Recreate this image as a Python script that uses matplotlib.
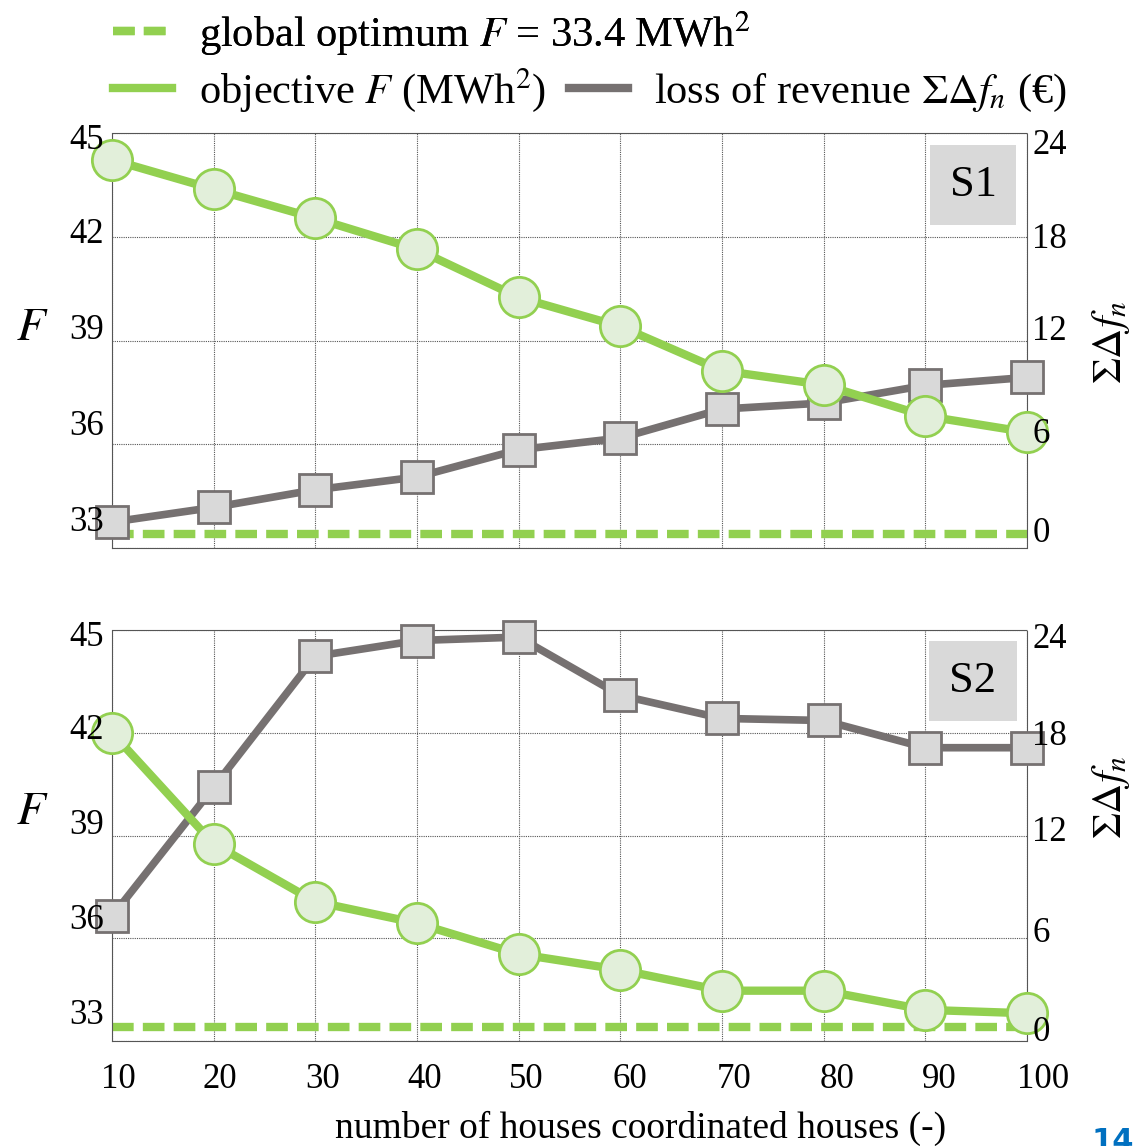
import matplotlib
matplotlib.use("Agg")
import matplotlib.pyplot as plt
from matplotlib.lines import Line2D
from matplotlib.transforms import ScaledTranslation

plt.rcParams["font.family"] = ["Liberation Serif", "DejaVu Serif"]
plt.rcParams["mathtext.fontset"] = "stix"

houses = [10, 20, 30, 40, 50, 60, 70, 80, 90, 100]
global_opt = 33.4

# S1
obj_s1 = [44.23, 43.38, 42.54, 41.64, 40.25, 39.41, 38.13, 37.72, 36.82, 36.35]
loss_s1 = [1.5, 2.35, 3.37, 4.11, 5.69, 6.36, 8.04, 8.39, 9.41, 9.87]
# S2
obj_s2 = [42.0, 38.76, 37.07, 36.44, 35.54, 35.08, 34.47, 34.47, 33.91, 33.81]
loss_s2 = [7.28, 14.82, 22.47, 23.39, 23.59, 20.19, 18.84, 18.72, 17.13, 17.13]

f_ticks = [33, 36, 39, 42, 45]
loss_ticks = [0, 6, 12, 18, 24]

green = "#92d050"
green_face = "#e2efda"
grey = "#767171"
grey_face = "#d9d9d9"

fig = plt.figure(figsize=(11.38, 11.46), dpi=100)
rect_top = [0.0984, 0.5218, 0.804, 0.362]
rect_bot = [0.0984, 0.0916, 0.804, 0.3586]


def nudge(labels, dx, dy):
    # the tick labels in the source sit a little off their grid lines
    for lab, x, y in zip(labels, dx, dy):
        lab.set_transform(lab.get_transform() + ScaledTranslation(x / 100, y / 100, fig.dpi_scale_trans))


panels = [
    (rect_top, obj_s1, loss_s1, "S1", 0.528, 0.496, [19, 14, 13, 1, -8]),
    (rect_bot, obj_s2, loss_s2, "S2", 0.555, 0.594, [13, 9, 7, 0, -5]),
]

axes = []
for rect, obj, loss, tag, fy, ly, right_dy in panels:
    # base axes: grid + dashed optimum
    ax = fig.add_axes(rect)
    ax.set_xlim(10, 100)
    ax.set_ylim(33, 45)
    ax.set_xticks(houses)
    ax.set_yticks(f_ticks)
    ax.grid(True, linestyle=(0, (1, 1)), color="#555555", linewidth=0.8)
    for s in ax.spines.values():
        s.set_linestyle((0, (1, 1)))
        s.set_color("#555555")
        s.set_linewidth(0.8)
    ax.tick_params(axis="both", length=0, labelleft=False, labelbottom=False)
    ax.plot([houses[0], houses[-1]], [global_opt, global_opt], color=green,
            linewidth=6, dashes=(2.6, 1.1), solid_capstyle="butt", clip_on=False)

    # loss of revenue on the right scale
    ax_loss = ax.twinx()
    ax_loss.set_ylim(0, 24)
    ax_loss.axis("off")
    ax_loss.plot(houses, loss, color=grey, linewidth=5.5, marker="s", markersize=23,
                 markerfacecolor=grey_face, markeredgecolor=grey, markeredgewidth=2,
                 clip_on=False)

    # objective F on the left scale
    ax_obj = ax.twinx()
    ax_obj.set_ylim(33, 45)
    ax_obj.axis("off")
    ax_obj.plot(houses, obj, color=green, linewidth=6, marker="o", markersize=29,
                markerfacecolor=green_face, markeredgecolor=green, markeredgewidth=2,
                clip_on=False)
    ax_obj.text(0.941, 0.875, tag, transform=ax_obj.transAxes, fontsize=32,
                ha="center", va="center",
                bbox=dict(boxstyle="square,pad=0.45", facecolor=grey_face, edgecolor="none"))

    # overlay for tick labels, so they sit above the markers
    ax_lab = fig.add_axes(rect, sharex=ax, sharey=ax)
    ax_lab.patch.set_visible(False)
    for s in ax_lab.spines.values():
        s.set_visible(False)
    ax_lab.tick_params(axis="both", length=0, labelsize=25)
    ax_lab.tick_params(axis="y", pad=6)
    ax_lab.tick_params(axis="x", pad=16)
    nudge(ax_lab.get_yticklabels(), [0] * 5, [30, 22, 14, 6, -3])
    ax_lab.set_ylabel(r"$F$", fontsize=34, rotation=0, va="center", ha="center")
    ax_lab.yaxis.set_label_coords(-0.087, fy)

    ax_lab2 = ax_lab.twinx()
    ax_lab2.set_ylim(0, 24)
    ax_lab2.set_yticks(loss_ticks)
    for s in ax_lab2.spines.values():
        s.set_visible(False)
    ax_lab2.tick_params(axis="y", length=0, labelsize=25, pad=4)
    nudge(ax_lab2.get_yticklabels(), [0] * 5, right_dy)
    ax_lab2.set_ylabel(r"$\Sigma\Delta f_n$", fontsize=30, rotation=90,
                       ha="center", va="center")
    ax_lab2.yaxis.set_label_coords(1.0915, ly)

    axes.append(ax_lab)

ax_top_lab, ax_bot_lab = axes
ax_top_lab.tick_params(axis="x", labelbottom=False)
nudge(ax_bot_lab.get_xticklabels(), [6, 6, 7, 8, 8, 10, 12, 13, 14, 16], [0] * 10)
ax_bot_lab.set_xlabel("number of houses coordinated houses (-)", fontsize=27, va="center")
ax_bot_lab.xaxis.set_label_coords(0.578, -0.212)

h_opt = Line2D([], [], color=green, linewidth=6, dashes=(2.6, 1.1))
h_obj = Line2D([], [], color=green, linewidth=6)
h_loss = Line2D([], [], color=grey, linewidth=6)

leg_kw = dict(loc="center left", frameon=False, fontsize=30.5, handlelength=1.4,
              handletextpad=0.62, borderpad=0, borderaxespad=0)
leg1 = fig.legend([h_opt], [r"global optimum $F$ = 33.4 MWh$^2$"],
                  bbox_to_anchor=(0.0993, 0.971), **leg_kw)
fig.add_artist(leg1)
fig.legend([h_obj, h_loss], [r"objective $F$ (MWh$^2$)", r"loss of revenue $\Sigma\Delta f_n$ (€)"],
           bbox_to_anchor=(0.0993, 0.921), ncol=2, columnspacing=0.55, **leg_kw)

fig.text(0.978, 0.004, "14", color="#0070c0", fontsize=22, fontweight="bold",
         family="DejaVu Sans", ha="center", va="center")

fig.savefig("out.png", dpi=100)
